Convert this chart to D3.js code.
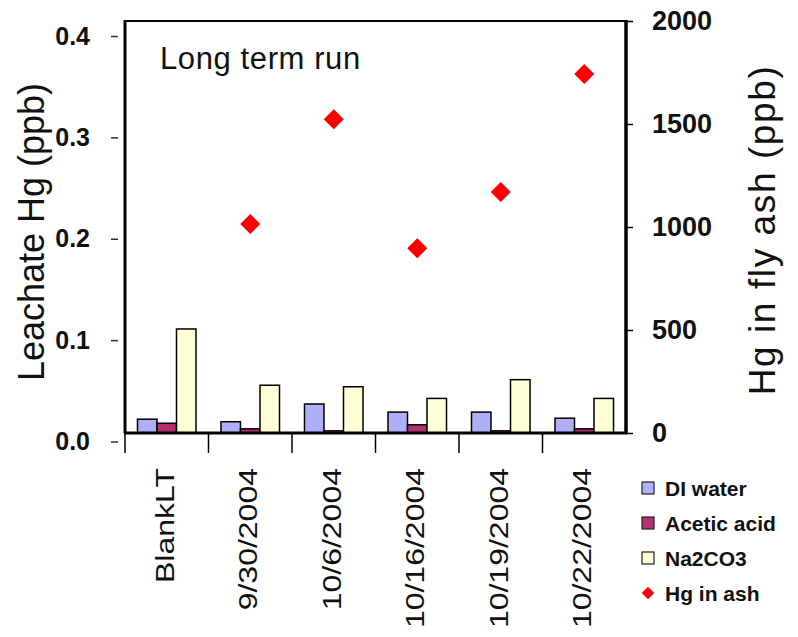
<!DOCTYPE html>
<html>
<head>
<meta charset="utf-8">
<script src="https://cdn.jsdelivr.net/npm/d3@7"></script>
<style>
body { margin: 0; background: #fff; }
svg { font-family: "Liberation Sans", Arial, sans-serif; }
.tick text { fill: #111; }
</style>
</head>
<body>
<svg id="chart" width="798" height="637"></svg>
<script>
// values
var categories = ['BlankLT', '9/30/2004', '10/6/2004', '10/16/2004', '10/19/2004', '10/22/2004'];
var series = ['DI water', 'Acetic acid', 'Na2CO3'];
var diWater = [0.022, 0.0195, 0.037, 0.029, 0.029, 0.023];
var aceticAcid = [0.018, 0.0125, 0.0105, 0.0165, 0.0105, 0.0125];
var na2co3 = [0.111, 0.0555, 0.054, 0.0425, 0.061, 0.0425];
var hgInAsh = [null, 1015, 1523, 897, 1170, 1743];
var leftTicks = [0, 0.1, 0.2, 0.3, 0.4];
var rightTicks = [0, 500, 1000, 1500, 2000];
var colors = ['#afaff7', '#b3306e', '#ffffd6'];

var svg = d3.select('#chart');
var pLeft = 125, pRight = 626, pTop = 21, pBottom = 433;

var x0 = d3.scaleBand().domain(categories).range([pLeft, pRight]);
var x1 = d3.scaleBand().domain(series).range([0, x0.bandwidth()]).paddingInner(0).paddingOuter(0.64);
var yL = d3.scaleLinear().domain([0, 0.4]).range([441.5, 36]);
var yR = d3.scaleLinear().domain([0, 2000]).range([pBottom, pTop]);

var values = [diWater, aceticAcid, na2co3];

svg.append('defs').append('clipPath').attr('id', 'plot')
    .append('rect').attr('x', pLeft).attr('y', pTop).attr('width', pRight - pLeft).attr('height', pBottom - pTop);

// bars
var bars = svg.append('g').attr('clip-path', 'url(#plot)');
series.forEach(function(s, j){
    bars.selectAll('.bar' + j)
        .data(categories)
        .enter().append('rect')
        .attr('x', function(d){ return x0(d) + x1(s); })
        .attr('width', x1.bandwidth())
        .attr('y', function(d, i){ return yL(values[j][i]); })
        .attr('height', function(d, i){ return yL(0) - yL(values[j][i]); })
        .attr('fill', colors[j])
        .attr('stroke', '#000')
        .attr('stroke-width', 1.5);
});

// frame
svg.append('line').attr('x1', pLeft).attr('x2', pRight).attr('y1', pTop).attr('y2', pTop)
    .attr('stroke', '#000').attr('stroke-width', 2);
svg.append('line').attr('x1', pLeft).attr('x2', pLeft).attr('y1', pTop - 1).attr('y2', pBottom)
    .attr('stroke', '#000').attr('stroke-width', 3);
svg.append('line').attr('x1', pRight).attr('x2', pRight).attr('y1', pTop - 1).attr('y2', pBottom + 1)
    .attr('stroke', '#000').attr('stroke-width', 3.5);
svg.append('line').attr('x1', pLeft - 1).attr('x2', pRight + 1).attr('y1', pBottom).attr('y2', pBottom)
    .attr('stroke', '#000').attr('stroke-width', 3);

// category ticks below axis
var tickPos = categories.map(function(d){ return x0(d); });
svg.selectAll('.xtick').data(tickPos).enter().append('line')
    .attr('x1', function(d){ return d; }).attr('x2', function(d){ return d; })
    .attr('y1', pBottom).attr('y2', pBottom + 20)
    .attr('stroke', '#000').attr('stroke-width', 1.5);

svg.selectAll('.xlab').data(categories).enter().append('text')
    .attr('transform', function(d){ return 'translate(' + (x0(d) + x0.bandwidth() / 2 - 2) + ',468) rotate(-90) scale(1.28,1)'; })
    .attr('text-anchor', 'end')
    .attr('dy', '0.36em')
    .attr('font-size', 25)
    .attr('fill', '#111')
    .text(function(d){ return d; });

// left axis (offset ticks)
var axL = svg.append('g').attr('transform', 'translate(118,0)')
    .call(d3.axisLeft(yL).tickValues(leftTicks).tickSize(7).tickPadding(21).tickFormat(d3.format('.1f')));
axL.select('.domain').remove();
axL.selectAll('.tick line').attr('stroke', '#333').attr('stroke-width', 1.5);
axL.selectAll('.tick text').attr('font-size', 25).attr('font-weight', 'bold').attr('font-family', null);

// right axis
var axR = svg.append('g').attr('transform', 'translate(' + pRight + ',0)')
    .call(d3.axisRight(yR).tickValues(rightTicks).tickSize(7).tickPadding(19).tickFormat(d3.format('d')));
axR.select('.domain').remove();
axR.selectAll('.tick line').attr('stroke', '#000').attr('stroke-width', 1.5);
axR.selectAll('.tick text').attr('font-size', 27).attr('font-weight', 'bold').attr('font-family', null);

// Hg in ash points
var diamond = d3.symbol().type(d3.symbolSquare).size(200);
svg.selectAll('.pt')
    .data(categories.filter(function(d, i){ return hgInAsh[i] != null; }))
    .enter().append('path')
    .attr('d', diamond)
    .attr('fill', '#ff0000')
    .attr('transform', function(d){
        var i = categories.indexOf(d);
        return 'translate(' + (x0(d) + x0.bandwidth() / 2) + ',' + yR(hgInAsh[i]) + ') rotate(45)';
    });

// titles
svg.append('text').attr('x', 160).attr('y', 69).attr('font-size', 31).attr('letter-spacing', 0.6).attr('fill', '#111')
    .text('Long term run');
svg.append('text').attr('transform', 'translate(44,232) rotate(-90)')
    .attr('text-anchor', 'middle').attr('font-size', 36).attr('fill', '#111')
    .text('Leachate Hg (ppb)');
svg.append('text').attr('transform', 'translate(775,230) rotate(-90)')
    .attr('text-anchor', 'middle').attr('font-size', 37).attr('letter-spacing', 1.6).attr('fill', '#111')
    .text('Hg in fly ash (ppb)');

// legend
var legendNames = series.concat(['Hg in ash']);
var lg = svg.selectAll('.lg').data(legendNames).enter().append('g')
    .attr('transform', function(d, i){ return 'translate(648,' + (488 + i * 35) + ')'; });
lg.each(function(d, i){
    var g = d3.select(this);
    if (i < 3) {
        g.append('rect').attr('x', -6).attr('y', -6).attr('width', 12).attr('height', 12)
            .attr('fill', colors[i]).attr('stroke', '#222').attr('stroke-width', 1.2);
    } else {
        g.append('path').attr('d', d3.symbol().type(d3.symbolSquare).size(80)).attr('transform', 'rotate(45)')
            .attr('fill', '#ff0000');
    }
    g.append('text').attr('x', 17).attr('dy', '0.36em').attr('font-size', 21).attr('font-weight', 'bold')
        .attr('fill', '#111').text(d);
});
</script>
</body>
</html>
